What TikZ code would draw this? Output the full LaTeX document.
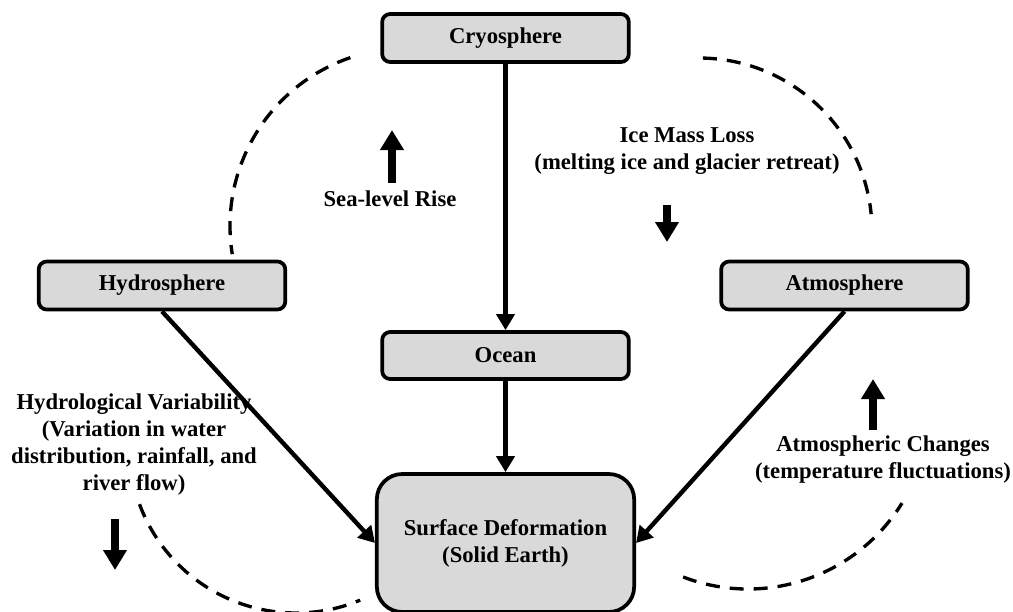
\documentclass[tikz,border=0pt]{standalone}
\usepackage{fontspec}
\setmainfont{Liberation Serif}
\usetikzlibrary{arrows.meta}
\definecolor{boxgray}{HTML}{D9D9D9}
\begin{document}
\begin{tikzpicture}[x=0.75pt,y=-0.75pt,
  box/.style={draw=black, line width=2.8pt, fill=boxgray, rounded corners=6pt,
    minimum width=185pt, minimum height=36pt, inner sep=0pt,
    font=\fontsize{17}{20.25}\selectfont\bfseries},
  lbl/.style={align=center, inner sep=0pt, font=\fontsize{17}{20.25}\selectfont\bfseries},
  conn/.style={line width=3.3pt, -{Triangle[width=13.5pt,length=12pt]}},
  fat/.style={line width=5.6pt, -{Triangle[width=17pt,length=15pt]}},
  dsh/.style={line width=2.5pt, dash pattern=on 10.5pt off 7.5pt}
]
\useasboundingbox (0,0) rectangle (1013,611);

% dashed arcs
\coordinate (c1) at (408,226);
\coordinate (c2) at (699,231);
\coordinate (c3) at (296,446);
\coordinate (c4) at (748,408);
\draw[dsh] (c1) ++(251.1:178) arc[start angle=251.1, end angle=170.9, radius=178];
\draw[dsh] (c2) ++(271.3:173) arc[start angle=271.3, end angle=354.4, radius=173];
\draw[dsh] (c3) ++(159.6:167) arc[start angle=159.6, end angle=67.4, radius=167];
\draw[dsh] (c4) ++(111:181) arc[start angle=111, end angle=31.7, radius=181];

% labels
\node[lbl] (slr) at (390,199) {Sea-level Rise};
\node[lbl] (iml) at (687,151.5) {Ice Mass Loss\\(melting ice and glacier retreat)};
\node[lbl] (hv) at (134,445) {Hydrological Variability\\(Variation in water\\distribution, rainfall, and\\river flow)};
\node[lbl] (ac) at (883,460) {Atmospheric Changes\\(temperature fluctuations)};

% boxes
\node[box] (cryo) at (505.5,38) {Cryosphere};
\node[box] (hydro) at (162,285.5) {Hydrosphere};
\node[box] (atm) at (844.5,285.5) {Atmosphere};
\node[box, minimum height=35.25pt] (ocean) at (505.5,355.5) {Ocean};
\node[box, rounded corners=19pt, minimum width=193pt, minimum height=103.5pt, align=center]
  (sd) at (505.5,543) {Surface Deformation\\(Solid Earth)};

% connectors
\draw[conn] (cryo.south) -- (ocean.north);
\draw[conn] (ocean.south) -- (sd.north);
\draw[conn] (hydro.south) -- (sd.west);
\draw[conn] (atm.south) -- (sd.east);

% trend arrows
\coordinate (a1s) at (392,183); \coordinate (a1e) at (392,130);
\coordinate (a2s) at (667,205); \coordinate (a2e) at (667,242);
\coordinate (a3s) at (873,430); \coordinate (a3e) at (873,379);
\coordinate (a4s) at (115,519); \coordinate (a4e) at (115,570);
\draw[fat] (a1s) -- (a1e);
\draw[fat] (a2s) -- (a2e);
\draw[fat] (a3s) -- (a3e);
\draw[fat] (a4s) -- (a4e);
\end{tikzpicture}
\end{document}
